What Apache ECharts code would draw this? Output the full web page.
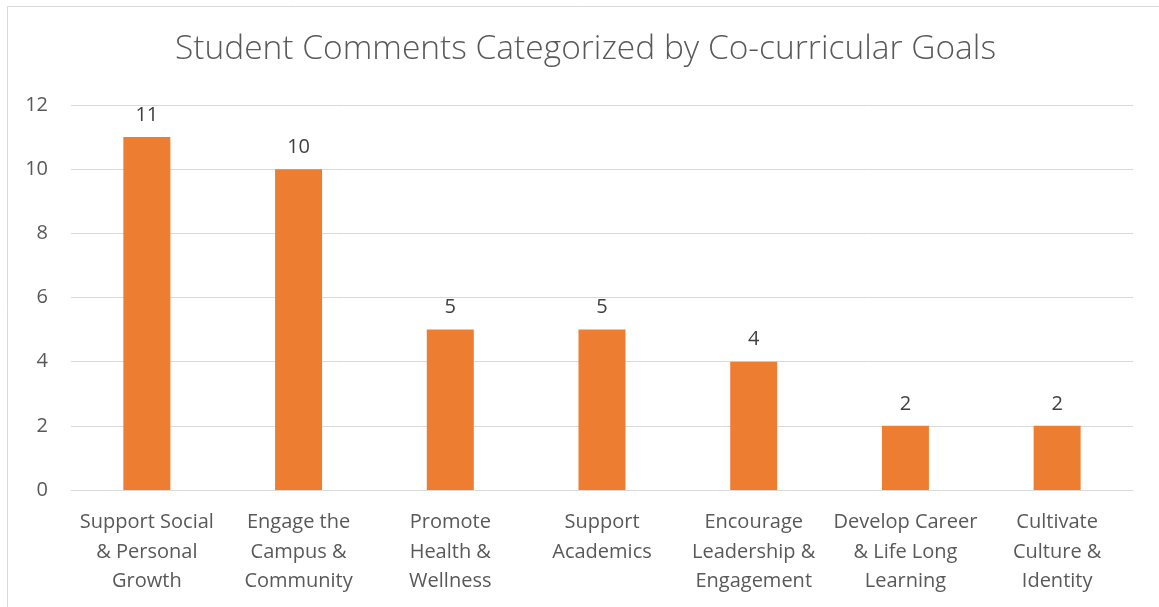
<!DOCTYPE html>
<html>
<head>
<meta charset="utf-8">
<script src="https://cdn.jsdelivr.net/npm/echarts@6/dist/echarts.min.js"></script>
<style>
html,body{margin:0;padding:0;background:#fff;}
#c{width:1159px;height:607px;}
</style>
</head>
<body>
<div id="c"></div>
<script>
const titleText = "Student Comments Categorized by Co-curricular Goals";
const categories = [
  "Support Social\n& Personal\nGrowth",
  "Engage the\nCampus &\nCommunity",
  "Promote\nHealth &\nWellness",
  "Support\nAcademics",
  "Encourage\nLeadership &\nEngagement",
  "Develop Career\n& Life Long\nLearning",
  "Cultivate\nCulture &\nIdentity"
];
const values = [11, 10, 5, 5, 4, 2, 2];
const yMin = 0, yMax = 12, yInterval = 2;

const FONT = "'Open Sans', 'Noto Sans', sans-serif";
const chart = echarts.init(document.getElementById('c'), null, {renderer: 'canvas'});
chart.setOption({
  animation: false,
  backgroundColor: '#fff',
  graphic: [{
    type: 'rect', silent: true, z: -10,
    shape: {x: 7.5, y: 6.5, width: 1200, height: 700},
    style: {fill: 'none', stroke: '#D9D9D9', lineWidth: 1}
  }],
  title: {
    text: titleText, left: 175, top: 32, padding: 0,
    textStyle: {fontFamily: FONT, fontSize: 33.5, fontWeight: 300, color: '#595959'}
  },
  grid: {left: 71, right: 26, top: 105, bottom: 117, containLabel: false},
  xAxis: {
    type: 'category', data: categories,
    axisLine: {show: true, lineStyle: {color: '#D9D9D9', width: 1}},
    axisTick: {show: false},
    axisLabel: {interval: 0, margin: 18, fontFamily: FONT, fontSize: 20, color: '#595959', lineHeight: 29.5, align: 'center'}
  },
  yAxis: {
    type: 'value', min: yMin, max: yMax, interval: yInterval,
    axisLine: {show: false}, axisTick: {show: false},
    splitLine: {lineStyle: {color: '#D9D9D9', width: 1}},
    axisLabel: {margin: 23, fontFamily: FONT, fontSize: 20, color: '#595959'}
  },
  series: [{
    type: 'bar', data: values, barWidth: 47,
    itemStyle: {color: '#ED7D31'},
    label: {show: true, position: 'top', distance: 12, fontFamily: FONT, fontSize: 20, color: '#404040'}
  }]
});
</script>
</body>
</html>
